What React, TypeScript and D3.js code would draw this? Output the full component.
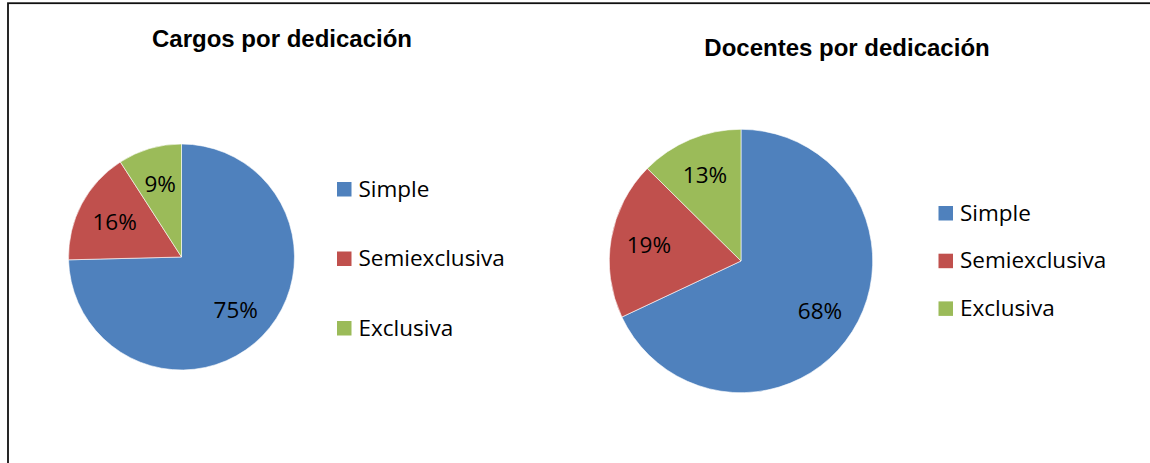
import React from "react";
import * as d3 from "d3";

const categories = ["Simple", "Semiexclusiva", "Exclusiva"];
const cargosValues = [74.6, 16.3, 9.1];
const docentesValues = [68.0, 19.4, 12.6];
const chartTitles = ["Cargos por dedicación", "Docentes por dedicación"];
const sliceColors = ["#4F81BD", "#C0504D", "#9BBB59"];

const W = 1150;
const H = 463;

type Layout = {
  cx: number;
  cy: number;
  r: number;
  labelFrac: number;
  titleX: number;
  titleY: number;
  legendX: number;
  legendY: number;
  legendStep: number;
};

const layouts: Layout[] = [
  { cx: 181.5, cy: 257, r: 113, labelFrac: 0.67, titleX: 282, titleY: 47, legendX: 337, legendY: 182, legendStep: 69.5 },
  { cx: 741, cy: 261, r: 131.7, labelFrac: 0.71, titleX: 847, titleY: 56, legendX: 938.5, legendY: 206, legendStep: 47.7 },
];

const labelFont = "'Open Sans', 'Noto Sans', sans-serif";
const titleFont = "'Liberation Sans', Arial, sans-serif";

function PieChart({ values, title, L }: { values: number[]; title: string; L: Layout }) {
  const pie = d3
    .pie<number>()
    .sort(null)
    .value((d) => d)
    .startAngle(0)
    .endAngle(2 * Math.PI);
  const arcs = pie(values);
  const arc = d3.arc<d3.PieArcDatum<number>>().innerRadius(0).outerRadius(L.r);
  const labelArc = d3
    .arc<d3.PieArcDatum<number>>()
    .innerRadius(L.r * L.labelFrac)
    .outerRadius(L.r * L.labelFrac);
  const total = d3.sum(values);
  return (
    <g>
      <text
        x={L.titleX}
        y={L.titleY}
        textAnchor="middle"
        fontFamily={titleFont}
        fontWeight="bold"
        fontSize={24}
        fill="#000"
      >
        {title}
      </text>
      <g transform={`translate(${L.cx},${L.cy})`}>
        {arcs.map((a, i) => (
          <path key={i} d={arc(a) || ""} fill={sliceColors[i]} stroke="#ffffff" strokeWidth={0.6} />
        ))}
        {arcs.map((a, i) => {
          const [x, y] = labelArc.centroid(a);
          return (
            <text
              key={"l" + i}
              x={x}
              y={y}
              dy="0.36em"
              textAnchor="middle"
              fontFamily={labelFont}
              fontSize={22.5}
              fill="#000"
            >
              {`${Math.round((a.data / total) * 100)}%`}
            </text>
          );
        })}
      </g>
      <g>
        {categories.map((c, i) => (
          <g key={c} transform={`translate(${L.legendX},${L.legendY + i * L.legendStep})`}>
            <rect x={0} y={0} width={14.5} height={14.5} fill={sliceColors[i]} />
            <text x={21.5} y={14.5} fontFamily={labelFont} fontSize={22.5} fill="#000">
              {c}
            </text>
          </g>
        ))}
      </g>
    </g>
  );
}

export default function App() {
  return (
    <svg
      width={W}
      height={H}
      viewBox={`0 0 ${W} ${H}`}
      style={{ position: "absolute", left: 0, top: 0, background: "#fff" }}
    >
      <rect x={0} y={0} width={W} height={H} fill="#fff" />
      <rect x={8} y={3.2} width={W + 20} height={H + 20} fill="none" stroke="#111" strokeWidth={1.8} />
      <PieChart values={cargosValues} title={chartTitles[0]} L={layouts[0]} />
      <PieChart values={docentesValues} title={chartTitles[1]} L={layouts[1]} />
    </svg>
  );
}
